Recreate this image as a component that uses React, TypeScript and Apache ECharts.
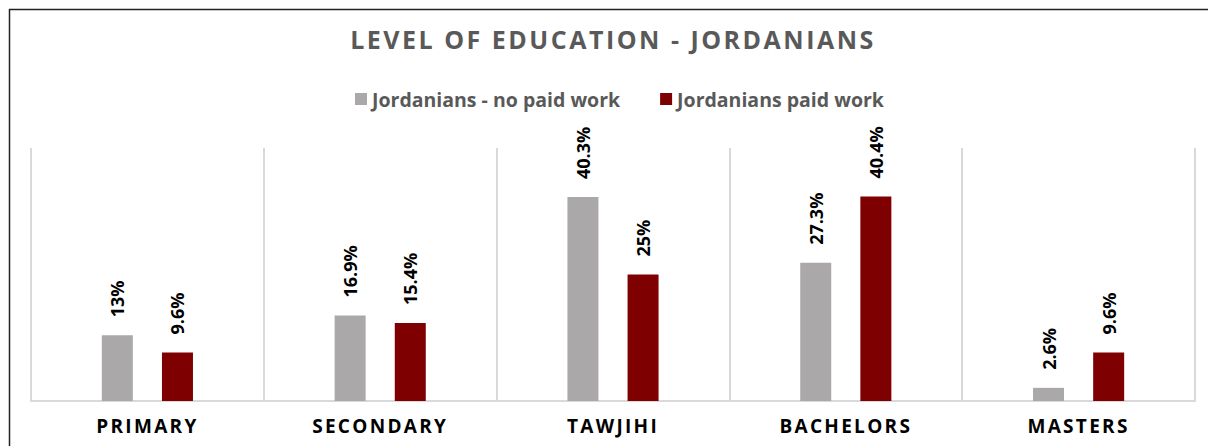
import React, { useEffect, useRef } from "react";
import * as echarts from "echarts";

const categories = ["PRIMARY", "SECONDARY", "TAWJIHI", "BACHELORS", "MASTERS"];
const noPaidWork = [13, 16.9, 40.3, 27.3, 2.6];
const paidWork = [9.6, 15.4, 25, 40.4, 9.6];
const seriesNames = ["Jordanians - no paid work", "Jordanians paid work"];
const titleText = "LEVEL OF EDUCATION - JORDANIANS";

const FONT = "'Open Sans', 'Noto Sans', sans-serif";

export default function App() {
  const ref = useRef<HTMLDivElement>(null);
  useEffect(() => {
    if (!ref.current) return;
    const chart = echarts.init(ref.current, null, { renderer: "svg" });
    const label = {
      show: true,
      position: "top",
      rotate: 90,
      align: "left",
      verticalAlign: "middle",
      distance: 18,
      color: "#000",
      fontFamily: FONT,
      fontWeight: "bold",
      fontSize: 18,
      formatter: (p: any) => p.value + "%",
    };
    chart.setOption({
      animation: false,
      backgroundColor: "#fff",
      title: {
        text: titleText,
        left: 608,
        textAlign: "center",
        top: 21,
        textStyle: {
          fontFamily: FONT,
          fontWeight: "bold",
          fontSize: 25,
          color: "#595959",
        },
      },
      legend: {
        data: seriesNames,
        top: 84,
        left: 350,
        icon: "rect",
        itemWidth: 12,
        itemHeight: 12,
        itemGap: 40,
        textStyle: {
          fontFamily: FONT,
          fontWeight: "bold",
          fontSize: 19.5,
          color: "#595959",
        },
      },
      grid: { left: 31, right: 13, top: 148, bottom: 45, containLabel: false },
      xAxis: {
        type: "category",
        data: categories,
        axisLine: { show: true, lineStyle: { color: "#d9d9d9", width: 2 } },
        axisTick: { show: false },
        splitLine: { show: true, interval: 0, lineStyle: { color: "#d9d9d9", width: 2 } },
        axisLabel: {
          margin: 15,
          color: "#000",
          fontFamily: FONT,
          fontWeight: "bold",
          fontSize: 19,
        },
      },
      yAxis: {
        type: "value",
        min: 0,
        max: 50,
        show: false,
        splitLine: { show: false },
      },
      series: [
        {
          name: seriesNames[0],
          type: "bar",
          data: noPaidWork,
          barWidth: 31,
          barGap: "94%",
          itemStyle: { color: "#ABA8A9" },
          label,
        },
        {
          name: seriesNames[1],
          type: "bar",
          data: paidWork,
          barWidth: 31,
          barGap: "94%",
          itemStyle: { color: "#7F0000" },
          label,
        },
      ],
      graphic: [
        {
          type: "line",
          shape: { x1: 9, y1: 9.5, x2: 1208, y2: 9.5 },
          style: { stroke: "#222", lineWidth: 1.5 },
        },
        {
          type: "line",
          shape: { x1: 9.5, y1: 9, x2: 9.5, y2: 446 },
          style: { stroke: "#222", lineWidth: 1.5 },
        },
      ],
    });
    const spaceLetters = () => {
      if (!ref.current) return;
      ref.current.querySelectorAll("text").forEach((t) => {
        const s = t.textContent || "";
        if (s === titleText) (t as any).style.letterSpacing = "2.5px";
        else if (categories.includes(s)) (t as any).style.letterSpacing = "2.3px";
      });
    };
    spaceLetters();
    const raf = requestAnimationFrame(spaceLetters);
    const tm = setTimeout(spaceLetters, 50);
    return () => {
      cancelAnimationFrame(raf);
      clearTimeout(tm);
      chart.dispose();
    };
  }, []);
  return (
    <div
      ref={ref}
      style={{ position: "fixed", left: 0, top: 0, width: 1208, height: 446 }}
    />
  );
}
